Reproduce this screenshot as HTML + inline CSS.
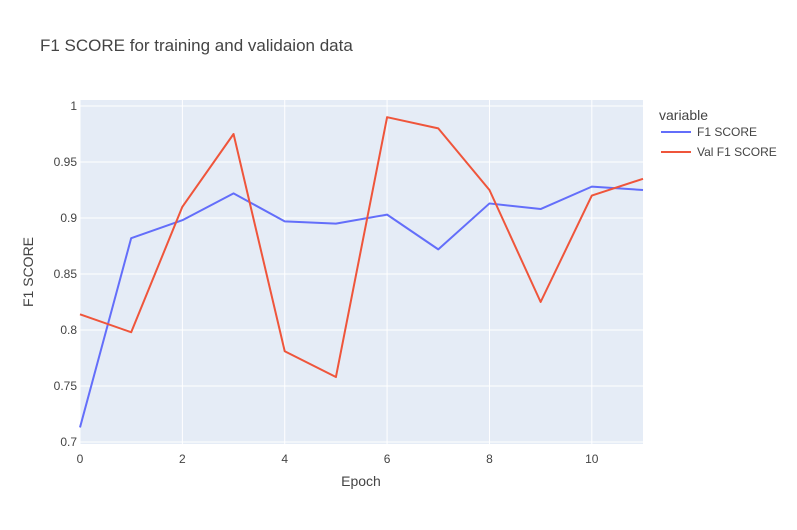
<!DOCTYPE html>
<html><head><meta charset="utf-8"><style>
body{margin:0;background:#fff;font-family:"Liberation Sans",sans-serif;}
svg text{font-family:"Liberation Sans",sans-serif;fill:#444;}
</style></head><body>
<svg id="chart" width="797" height="525" xmlns="http://www.w3.org/2000/svg">
<text x="40" y="51" style="font-size:17px;fill:#444">F1 SCORE for training and validaion data</text>
<rect x="80" y="100" width="563" height="344" fill="#e5ecf6"/>
<g id="grid"></g><g id="lines"></g><g id="ticks"></g>
<text x="361" y="486" text-anchor="middle" style="font-size:14px">Epoch</text>
<text transform="translate(33,272) rotate(-90)" text-anchor="middle" style="font-size:14px">F1 SCORE</text>
<g>
<text x="659" y="120" style="font-size:14px">variable</text>
<g><line x1="661" y1="132" x2="691" y2="132" stroke="#636efa" stroke-width="2"/><text x="697" y="136" style="font-size:12px">F1 SCORE</text></g>
<g><line x1="661" y1="152" x2="691" y2="152" stroke="#ef553b" stroke-width="2"/><text x="697" y="156" style="font-size:12px">Val F1 SCORE</text></g>
</g>
</svg>
<script>
const epochs=[0,1,2,3,4,5,6,7,8,9,10,11];
const f1Score=[0.713,0.882,0.898,0.922,0.897,0.895,0.903,0.872,0.913,0.908,0.928,0.925];
const valF1Score=[0.814,0.798,0.910,0.975,0.781,0.758,0.990,0.980,0.925,0.825,0.920,0.935];
const xTicks=[0,2,4,6,8,10];
const yTicks=[0.7,0.75,0.8,0.85,0.9,0.95,1];
const yTickLabels=["0.7","0.75","0.8","0.85","0.9","0.95","1"];
const NS="http://www.w3.org/2000/svg";
const xS=v=>80+v*(563/11);
const yS=v=>442-(v-0.7)*1120;
const grid=document.getElementById('grid'),lines=document.getElementById('lines'),ticks=document.getElementById('ticks');
function mk(t,a,p){const e=document.createElementNS(NS,t);for(const k in a)e.setAttribute(k,a[k]);p.appendChild(e);return e;}
xTicks.forEach(v=>{
 const l=mk('line',{x1:xS(v),x2:xS(v),y1:100,y2:444,stroke:'#fff','stroke-width':1},grid);
 
 
 const t=mk('text',{x:xS(v),y:463,'text-anchor':'middle','font-size':12},ticks);t.textContent=v;
 
 
});
yTicks.forEach((v,i)=>{
 const l=mk('line',{x1:80,x2:643,y1:yS(v),y2:yS(v),stroke:'#fff','stroke-width':1},grid);
 
 
 const t=mk('text',{x:77,y:yS(v)+4,'text-anchor':'end','font-size':12},ticks);t.textContent=yTickLabels[i];
 
 
});
function series(vals,color,name){
 const p=mk('polyline',{points:epochs.map((x,i)=>xS(x)+','+yS(vals[i])).join(' '),fill:'none',stroke:color,'stroke-width':2,'stroke-linejoin':'round'},lines);
 
 
}
series(f1Score,'#636efa','f1-score-line');
series(valF1Score,'#ef553b','val-f1-score-line');
</script>
</body></html>
